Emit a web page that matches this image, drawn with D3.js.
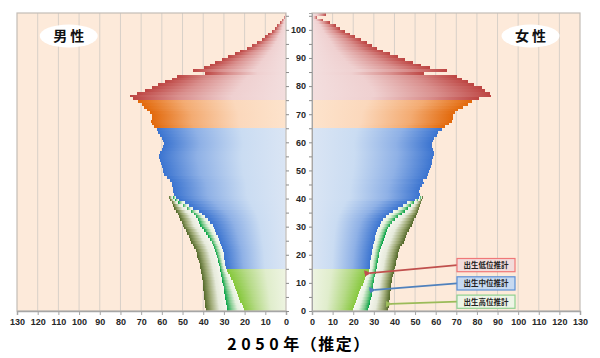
<!DOCTYPE html>
<html><head><meta charset="utf-8">
<script src="https://cdn.jsdelivr.net/npm/d3@7/dist/d3.min.js"></script>
<style>
body{margin:0;background:#fff;}
svg{display:block;font-family:Arial,"Liberation Sans","Noto Sans CJK JP",sans-serif;}
</style>
</head><body>
<svg id="c" width="600" height="358"></svg>
<script>
// ---- data (population, 10,000 persons) ----
// ages 0..40 : three birth-rate projections
const maleLow  = [20.5,21,21.5,22,22.5,23,23.5,24,24.6,25.2,25.8,26.5,27.2,27.8,28.5,29,29.3,29.6,29.8,30,30.2,30.5,31,31.5,32,32.5,33,33.7,34.3,35,35.5,36.5,37.7,39,40.5,42,45,47,49,51.5,53];
const maleMed  = [28.5,28.7,28.9,29.1,29.3,29.5,29.8,30,30.2,30.5,30.7,31,31.3,31.5,31.7,32,32.3,32.7,33,33.4,33.8,34.3,34.8,35.3,36,36.7,37.5,38.5,39.5,40.5,41.5,42,42.5,43.5,44.5,46,48,50,52,53.5,54.5];
const maleHigh = [38.9,39,39.2,39.3,39.5,39.6,39.7,39.9,40,40.1,40.2,40.5,40.8,41,41.2,41.5,41.8,42.2,42.5,42.8,43.1,43.7,44.4,45,45.8,46.5,47,47.8,48.5,49.3,50,50.5,51,51.7,52.3,53,54,54.5,55.2,56,56.5];
const femaleLow  = [20,20.5,21,21.5,22,22.5,23,23.5,24,24.5,25,25.7,26.4,27,27.6,28,28.2,28.3,28.5,28.7,28.9,29.1,29.4,29.7,30,30.4,30.8,31.2,31.7,32.2,32.8,33.5,34.6,36,37.5,39.4,41.5,44,46,50,52];
const femaleMed  = [27.3,27.6,27.9,28.2,28.6,29,29.2,29.4,29.6,29.8,30,30.3,30.6,30.9,31.1,31.4,31.6,31.8,32.1,32.4,32.7,33,33.4,33.8,34.2,34.7,35.2,35.7,36.3,37,37.8,39,40.2,41.8,43.5,45,46.5,48,49.5,51.5,52.8];
const femaleHigh = [37,37.2,37.3,37.5,37.6,37.8,38,38.1,38.3,38.4,38.6,39,39.3,39.7,40,40.3,40.6,40.9,41.2,41.5,41.8,42.3,42.9,43.5,44.4,45,45.6,46.3,47,47.6,48.3,49,49.6,50.3,51,51.6,52,52.5,53,53.3,53.7];
// ages 41..105 : single projection
const maleCommon = [54.2,54.4,54.4,55,55.2,56,57.5,59,59.3,59.6,
 60,60.5,61,61.3,61.3,61,60,59.3,59,59.3,
 60,60.9,61.7,62.5,63.8,64.9,65.4,64.9,64.9,65.7,
 67.3,68.6,69.7,71.3,73.8,75.4,72.1,68.1,64.9,61.7,
 58.5,55.2,52.8,39.1,45.1,39.6,36.7,34.3,31.1,27.9,
 24.6,22.2,19,16.6,14.2,11.7,10.1,8.5,6.9,5.3,
 4.5,2.9,2.1,1,0.5];
const femaleCommon = [52.4,52,52.6,53.2,54.3,54,55.6,56.4,56.9,57.2,
 57.8,58.3,58.3,58.8,59.2,59.2,58.5,58,58,58.5,
 59.2,60.5,61.3,62.9,64.5,66.6,67.7,68.2,68.5,69.4,
 71,73.4,75.8,77.4,81,87,86.3,84,82.3,78.5,
 75.5,72.6,70.2,54.5,65.3,57,52.8,49,45,41.5,
 37.8,34.5,31.5,29,26.5,24,21,18.5,16,13.6,
 11.5,8.5,5.5,2.6,7];
const xTicks = [0,10,20,30,40,50,60,70,80,90,100,110,120,130];
const ageTicks = [0,5,10,15,20,25,30,35,40,45,50,55,60,65,70,75,80,85,90,95,100,105];
const ageLabels = [0,10,20,30,40,50,60,70,80,90,100];
const sexLabels = ["男 性","女 性"];
const titleParts = ["2050年","（推定）"];
const legendLabels = ["出生低位推計","出生中位推計","出生高位推計"];
const arrowAges = [13,7,2];

// ---- layout ----
const svg = d3.select("#c");
const y = d3.scaleLinear().domain([0,106]).range([311,13]);
const xL = d3.scaleLinear().domain([0,130]).range([286,17]);
const xR = d3.scaleLinear().domain([0,130]).range([312,580]);
const bh = y(0)-y(1);

const palettes = {
  red:    ["#bd4542","#d98f8d","#efd0d0","#f3dede"],
  orange: ["#e2680a","#f3ab72","#fbd8bc","#fde3cc"],
  blue:   ["#3b74d0","#8fb1e6","#cadcf2","#dae5f4"],
  green:  ["#86c83c","#b5da86","#e0edcc","#eef4e2"],
  med:    ["#0aa548","#86cc92","#e4f1de","#f6f9f0"],
  high:   ["#556a2a","#a0ab78","#e6eadb","#f5f6ee"]
};
const defs = svg.append("defs");
Object.entries(palettes).forEach(([k,c])=>{
  ["L","R"].forEach(side=>{
    const g = defs.append("linearGradient").attr("id",k+side)
      .attr("x1",side==="L"?"0%":"100%").attr("x2",side==="L"?"100%":"0%")
      .attr("y1","0%").attr("y2","0%");
    [[0,c[0]],[0.3,c[1]],[0.65,c[2]],[1,c[3]]].forEach(([o,col])=>
      g.append("stop").attr("offset",o).attr("stop-color",col));
  });
});
function group(a){ return a<15?"green":a<65?"blue":a<75?"orange":"red"; }

function panel(x, side, low, med, high, common){
  const [r0,r1] = [Math.min(x(0),x(130)), Math.max(x(0),x(130))];
  svg.append("rect").attr("x",r0).attr("y",y(106)).attr("width",r1-r0).attr("height",y(0)-y(106))
    .attr("fill","#fdeada");
  svg.append("g").selectAll("line").data(xTicks.filter(d=>d>0&&d<130)).join("line")
    .attr("x1",d=>x(d)).attr("x2",d=>x(d)).attr("y1",y(106)).attr("y2",y(0))
    .attr("stroke","#d8d0c8").attr("stroke-width",1);
  const all = low.concat(common).map((v,a)=>({a,v}));
  const lo = v=>Math.min(x(0),x(v)), w = v=>Math.abs(x(v)-x(0));
  const g = svg.append("g").attr("shape-rendering","crispEdges");
  const bands = low.map((v,a)=>({a,l:v,m:med[a],h:high[a]}));
  g.selectAll("rect.hb").data(bands).join("rect").attr("class","hb")
    .attr("x",d=>Math.min(x(d.m),x(d.h))).attr("width",d=>Math.abs(x(d.h)-x(d.m)))
    .attr("y",d=>y(d.a+1)).attr("height",bh).attr("fill","url(#high"+side+")");
  g.selectAll("rect.mb").data(bands).join("rect").attr("class","mb")
    .attr("x",d=>Math.min(x(d.l),x(d.m))).attr("width",d=>Math.abs(x(d.m)-x(d.l)))
    .attr("y",d=>y(d.a+1)).attr("height",bh).attr("fill","url(#med"+side+")");
  g.selectAll("rect.bar").data(all).join("rect").attr("class","bar")
    .attr("x",d=>lo(d.v)).attr("width",d=>w(d.v))
    .attr("y",d=>y(d.a+1)).attr("height",bh)
    .attr("fill",d=>"url(#"+group(d.a)+side+")");
  svg.append("rect").attr("x",r0).attr("y",y(106)).attr("width",r1-r0).attr("height",y(0)-y(106))
    .attr("fill","none").attr("stroke","#c4bdb6").attr("stroke-width",1.2);
  const ax = svg.append("g").attr("transform",`translate(0,${y(0)})`)
    .call(d3.axisBottom(x).tickValues(xTicks).tickSize(4).tickPadding(4));
  ax.select(".domain").attr("stroke","#a6a6a6").attr("stroke-width",1.5);
  ax.selectAll(".tick line").attr("stroke","#a6a6a6");
  ax.selectAll("text").attr("font-size",9).attr("font-weight","bold").attr("fill","#262626");
}
panel(xL,"L",maleLow,maleMed,maleHigh,maleCommon);
panel(xR,"R",femaleLow,femaleMed,femaleHigh,femaleCommon);

const aL = svg.append("g").attr("transform",`translate(${xL(0)},0)`)
  .call(d3.axisRight(y).tickValues(ageTicks).tickSize(3).tickFormat(""));
aL.select(".domain").remove();
aL.selectAll(".tick line").attr("stroke","#8c8c8c");
const aR = svg.append("g").attr("transform",`translate(${xR(0)},0)`)
  .call(d3.axisLeft(y).tickValues(ageTicks).tickSize(3).tickPadding(3)
    .tickFormat(d=>ageLabels.includes(d)?d:""));
aR.select(".domain").attr("stroke","#a6a6a6");
aR.selectAll(".tick line").attr("stroke","#8c8c8c");
aR.selectAll("text").attr("font-size",9).attr("font-weight","bold").attr("fill","#262626");

[[xL(105),sexLabels[0]],[xR(106),sexLabels[1]]].forEach(([cx,t])=>{
  svg.append("ellipse").attr("cx",cx).attr("cy",36).attr("rx",29).attr("ry",11.5).attr("fill","#fff");
  svg.append("text").attr("x",cx).attr("y",41).attr("text-anchor","middle")
    .attr("font-size",14).attr("font-weight","bold").attr("fill","#111")
    .attr("font-family","'Noto Sans CJK JP',sans-serif").attr("xml:space","preserve").text(t);
});

const tt = svg.append("text").attr("x",299).attr("y",350).attr("text-anchor","middle")
  .attr("font-size",16).attr("font-weight","bold").attr("fill","#000")
  .attr("font-family","'Noto Sans CJK JP',sans-serif");
tt.append("tspan").attr("letter-spacing","4.5px").text(titleParts[0].slice(0,4));
tt.append("tspan").attr("letter-spacing","1.5px").text(titleParts[0].slice(4)+titleParts[1]);

const boxes = [
  {fill:"#f2dcdb",stroke:"#f07878",line:"#c0504d",series:femaleLow},
  {fill:"#c6d9f1",stroke:"#5b8fd6",line:"#4f81bd",series:femaleMed},
  {fill:"#eef4e6",stroke:"#8fd08f",line:"#9bbb59",series:femaleHigh}
];
const mk = defs.selectAll("marker").data(boxes).join("marker")
  .attr("id",(d,i)=>"ar"+i).attr("viewBox","0 0 10 10").attr("refX",2).attr("refY",5)
  .attr("markerWidth",3.6).attr("markerHeight",3.6).attr("orient","auto-start-reverse");
mk.append("path").attr("d","M10,0 L0,5 L10,10 Z").attr("fill",d=>d.line);
boxes.forEach((b,i)=>{
  const bx = 457, by = 258.5 + i*18.3, bw = 58, bhh = 13.2;
  const a = arrowAges[i];
  svg.append("line").attr("x1",bx).attr("y1",by+bhh/2)
    .attr("x2",xR(b.series[a])+2).attr("y2",y(a+0.5))
    .attr("stroke",b.line).attr("stroke-width",1.8).attr("marker-end","url(#ar"+i+")");
  svg.append("rect").attr("x",bx).attr("y",by).attr("width",bw).attr("height",bhh)
    .attr("fill",b.fill).attr("stroke",b.stroke).attr("stroke-width",1.2);
  svg.append("text").attr("x",bx+bw/2).attr("y",by+bhh/2+2.8).attr("text-anchor","middle")
    .attr("font-size",7.5).attr("font-weight","bold").attr("fill","#222")
    .attr("font-family","'Noto Sans CJK JP',sans-serif").text(legendLabels[i]);
});
</script>
</body></html>
